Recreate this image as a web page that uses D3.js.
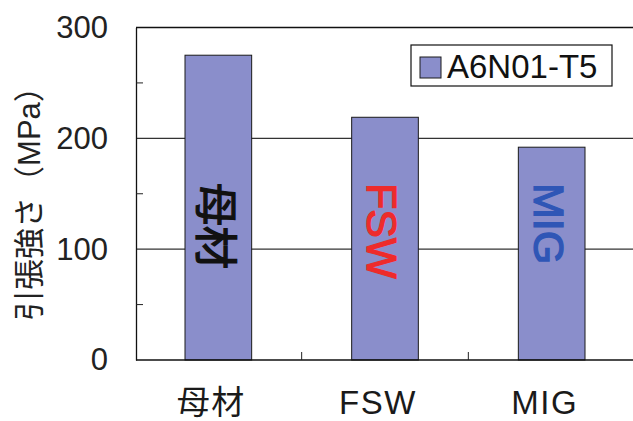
<!DOCTYPE html>
<html>
<head>
<meta charset="utf-8">
<script src="https://cdn.jsdelivr.net/npm/d3@7"></script>
<style>
  html, body { margin: 0; padding: 0; background: #ffffff; }
  svg { display: block; }
  text { font-family: "Liberation Sans", Arial, "Noto Sans CJK JP", sans-serif; }
</style>
</head>
<body>
<svg id="chart" width="633" height="421"></svg>
<script>
// Tensile strength of A6N01-T5: base metal vs. FSW and MIG joints
const categories = ["母材", "FSW", "MIG"];
const values = [275, 219, 192];
const barLabels = ["母材", "FSW", "MIG"];
const barLabelColors = ["#111111", "#ee2b2b", "#2f56b6"];
const seriesName = "A6N01-T5";
const yTicks = [0, 100, 200, 300];
const yMinorTicks = [50, 150, 250];
const yTitle = "引張強さ（MPa）";

const svg = d3.select("#chart");
const plotLeft = 136, plotTop = 27.5, plotBottom = 360, plotRight = 636;

const x = d3.scaleBand().domain(categories).range([135, 635]).paddingInner(0.6).paddingOuter(0.3);
const y = d3.scaleLinear().domain([0, 300]).range([plotBottom, plotTop]);

// gridlines at major ticks
svg.append("g").selectAll("line")
  .data(yTicks.filter(d => d > 0 && d < 300))
  .join("line")
  .attr("x1", plotLeft).attr("x2", plotRight)
  .attr("y1", d => y(d)).attr("y2", d => y(d))
  .attr("stroke", "#333").attr("stroke-width", 1.1);

// bars
svg.append("g").selectAll("rect")
  .data(values)
  .join("rect")
  .attr("x", (d, i) => x(categories[i]))
  .attr("y", d => y(d))
  .attr("width", x.bandwidth())
  .attr("height", d => plotBottom - y(d))
  .attr("fill", "#8a8ecb")
  .attr("stroke", "#1a1a1a").attr("stroke-width", 1);

// frame top line
svg.append("line").attr("x1", plotLeft).attr("x2", plotRight).attr("y1", plotTop).attr("y2", plotTop)
  .attr("stroke", "#111").attr("stroke-width", 1.3);

// y axis with labels, inward minor ticks
const yAxis = d3.axisLeft(y).tickValues(yTicks).tickSize(0).tickPadding(28);
const gy = svg.append("g").attr("transform", `translate(${plotLeft},0)`).call(yAxis);
gy.select(".domain").attr("stroke", "#111").attr("stroke-width", 1.3);
gy.selectAll("text").attr("font-size", 31).attr("fill", "#222")
  .attr("font-family", "'Liberation Sans', Arial, sans-serif");
gy.selectAll(".minor").data(yMinorTicks).join("line").attr("class", "minor")
  .attr("x1", 0).attr("x2", 7).attr("y1", d => y(d)).attr("y2", d => y(d))
  .attr("stroke", "#222").attr("stroke-width", 1);

// x axis: inward ticks between categories
const gx = svg.append("g").attr("transform", `translate(0,${plotBottom})`);
gx.append("line").attr("x1", plotLeft).attr("x2", plotRight).attr("y1", 0).attr("y2", 0)
  .attr("stroke", "#111").attr("stroke-width", 1.3);
const step = x.step();
gx.selectAll(".sep").data(categories.slice(1)).join("line").attr("class", "sep")
  .attr("x1", d => x(d) + x.bandwidth() / 2 - step / 2)
  .attr("x2", d => x(d) + x.bandwidth() / 2 - step / 2)
  .attr("y1", 0).attr("y2", -8)
  .attr("stroke", "#222").attr("stroke-width", 1);
gx.selectAll(".cat").data(categories).join("text").attr("class", "cat")
  .attr("x", d => x(d) + x.bandwidth() / 2 - 7)
  .attr("y", 54)
  .attr("text-anchor", "middle")
  .attr("font-size", 33)
  .attr("letter-spacing", 1.5)
  .attr("fill", "#1a1a1a")
  .text(d => d);

// vertical labels inside the bars (slightly heavier than regular)
svg.append("g").selectAll("text")
  .data(barLabels)
  .join("text")
  .attr("transform", (d, i) => `translate(${x(categories[i]) + x.bandwidth() / 2 - 2.5},183) rotate(90)`)
  .attr("dy", "0.36em")
  .attr("font-size", 43)
  .attr("fill", (d, i) => barLabelColors[i])
  .attr("stroke", (d, i) => barLabelColors[i])
  .attr("stroke-width", 1.3)
  .text(d => d);

// y axis title
svg.append("text")
  .attr("transform", "translate(29,196) rotate(-90)")
  .attr("dy", "0.36em")
  .attr("text-anchor", "middle")
  .attr("font-size", 31)
  .attr("fill", "#222")
  .text(yTitle);

// legend
const lg = svg.append("g");
lg.append("rect").attr("x", 411).attr("y", 45).attr("width", 201).attr("height", 41)
  .attr("fill", "#fff").attr("stroke", "#111").attr("stroke-width", 1.2);
lg.append("rect").attr("x", 420).attr("y", 57).attr("width", 21).attr("height", 21)
  .attr("fill", "#8a8ecb").attr("stroke", "#1a1a1a").attr("stroke-width", 1);
lg.append("text").attr("x", 447).attr("y", 78).attr("font-size", 33).attr("fill", "#111")
  .text(seriesName);
</script>
</body>
</html>
